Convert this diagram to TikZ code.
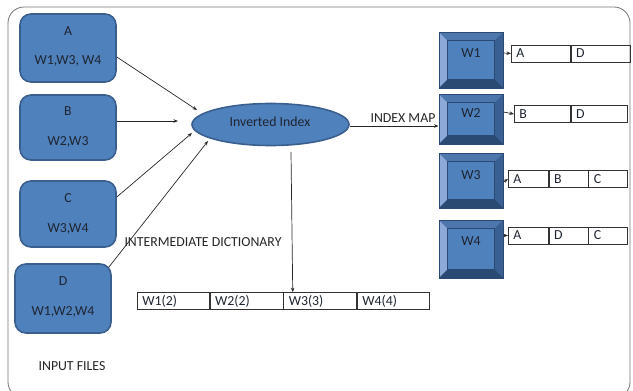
\documentclass[tikz,border=0pt]{standalone}
\usepackage{fontspec}
\setmainfont{Carlito}
\usetikzlibrary{arrows.meta,shapes.geometric}
\definecolor{boxfill}{HTML}{4F81BD}
\definecolor{boxline}{HTML}{3A5F8E}
\definecolor{bevdark}{HTML}{2B4A73}
\definecolor{bevlight}{HTML}{8CA9D8}
\definecolor{bevtop}{HTML}{4D76AC}
\definecolor{bevright}{HTML}{3A5F93}
\definecolor{txt}{HTML}{1E2430}
\tikzset{
  every node/.style={font=\fontsize{13.8}{16}\selectfont, text=txt, inner sep=0pt},
  filebox/.style={draw=boxline, line width=1.6pt, fill=boxfill, rounded corners=11pt},
  wkey/.style={draw=bevdark, line width=1pt, fill=bevright, minimum width=64pt, minimum height=55pt,
    path picture={
      \def\d{8.5pt}
      \fill[bevlight] (path picture bounding box.north west) -- (path picture bounding box.south west)
        -- ([xshift=\d,yshift=\d]path picture bounding box.south west) -- ([xshift=\d,yshift=-\d]path picture bounding box.north west) -- cycle;
      \fill[bevtop] (path picture bounding box.north west) -- (path picture bounding box.north east)
        -- ([xshift=-\d,yshift=-\d]path picture bounding box.north east) -- ([xshift=\d,yshift=-\d]path picture bounding box.north west) -- cycle;
      \fill[bevdark] (path picture bounding box.south west) -- (path picture bounding box.south east)
        -- ([xshift=-\d,yshift=\d]path picture bounding box.south east) -- ([xshift=\d,yshift=\d]path picture bounding box.south west) -- cycle;
      \draw[bevdark, fill=boxfill, line width=1.2pt] ([xshift=\d,yshift=\d]path picture bounding box.south west) rectangle ([xshift=-\d,yshift=-\d]path picture bounding box.north east);
    }},
  cell/.style={draw=black!80, line width=0.7pt, minimum height=17pt, anchor=west, text width=#1-10pt, align=left, inner xsep=5pt},
  arr/.style={draw=black!85, line width=0.7pt, -{Stealth[length=4.5pt,width=3.5pt]}},
  lbl/.style={text=black!85}
}
\begin{document}
\begin{tikzpicture}[x=1pt,y=-1pt]
\useasboundingbox (0,0) rectangle (633,391);
\begin{scope}
\clip (0,0) rectangle (633,391);
\draw[black!55, line width=0.8pt, rounded corners=16pt] (8,7) rectangle (630,398);
\end{scope}

% input files
\node[filebox, minimum width=96pt, minimum height=68pt] (A) at (68,48) {};
\node[filebox, minimum width=96pt, minimum height=65pt] (B) at (68,127.5) {};
\node[filebox, minimum width=96pt, minimum height=66pt] (C) at (68,214) {};
\node[filebox, minimum width=96pt, minimum height=69pt] (D) at (63,298.5) {};
\node (At) at (68,31) {A};
\node (Aw) at (68,61) {W1,W3, W4};
\node (Bt) at (68,111) {B};
\node (Bw) at (68,142) {W2,W3};
\node (Ct) at (68,198) {C};
\node (Cw) at (68,229) {W3,W4};
\node (Dt) at (63,281) {D};
\node (Dw) at (63,312) {W1,W2,W4};
\node[lbl] (inp) at (72,366) {INPUT FILES};

% inverted index
\node[ellipse, draw=boxline, line width=1.6pt, fill=boxfill, minimum width=157pt, minimum height=42pt] (ii) at (270.5,124.5) {};
\node (iit) at (270,122) {Inverted Index};

\coordinate (ea) at (197,110);
\coordinate (eb) at (178,121);
\coordinate (ec) at (192,133);
\coordinate (ed) at (208,141);
\draw[arr] ([yshift=-9pt]A.east) -- (ea);
\draw[arr] ([yshift=6.5pt]B.east) -- (eb);
\draw[arr] ([yshift=17pt]C.east) -- (ec);
\draw[arr] ([xshift=-3pt,yshift=-4pt]D.north east) -- (ed);

% intermediate dictionary
\node[lbl] (idl) at (203,242) {INTERMEDIATE DICTIONARY};
\node[cell=72pt] (d1) at (137,301) {W1(2)};
\node[cell=73pt] (d2) at (d1.east) {W2(2)};
\node[cell=73pt] (d3) at (d2.east) {W3(3)};
\node[cell=72pt] (d4) at (d3.east) {W4(4)};
\draw[arr] ([xshift=20.5pt,yshift=-5.5pt]ii.south) -- ([xshift=-27.5pt]d3.north);

% W keys
\node[wkey, minimum height=56pt] (W1) at (471,60) {};
\node[wkey, minimum height=50pt] (W2) at (471,119) {};
\node[wkey, minimum height=55pt] (W3) at (471,180.5) {};
\node[wkey, minimum height=58pt] (W4) at (471,249) {};
\node (W1t) at (471,53) {W1};
\node (W2t) at (471,113) {W2};
\node (W3t) at (471,175) {W3};
\node (W4t) at (471,241) {W4};

\draw[arr] (ii.east |- 0,126) -- ([yshift=-7pt]W2.west);
\node[lbl] (iml) at (403,118) {INDEX MAP};

% lists
\node[cell=59pt] (l1a) at (511,53.5) {A};
\node[cell=59pt] (l1b) at (l1a.east) {D};
\node[cell=56pt] (l2a) at (514,114) {B};
\node[cell=56pt] (l2b) at (l2a.east) {D};
\node[cell=40pt] (l3a) at (508,179) {A};
\node[cell=39pt] (l3b) at (l3a.east) {B};
\node[cell=39pt] (l3c) at (l3b.east) {C};
\node[cell=40pt] (l4a) at (508,235.5) {A};
\node[cell=39pt] (l4b) at (l4a.east) {D};
\node[cell=39pt] (l4c) at (l4b.east) {C};

\draw[arr] ([yshift=7pt]W1.east) -- (l1a.west);
\draw[arr] ([yshift=7pt]W2.east) -- (l2a.west);
\draw[arr] ([yshift=-1.5pt]W3.east) -- (l3a.west);
\draw[arr] ([yshift=13.5pt]W4.east) -- (l4a.west);
\end{tikzpicture}
\end{document}
